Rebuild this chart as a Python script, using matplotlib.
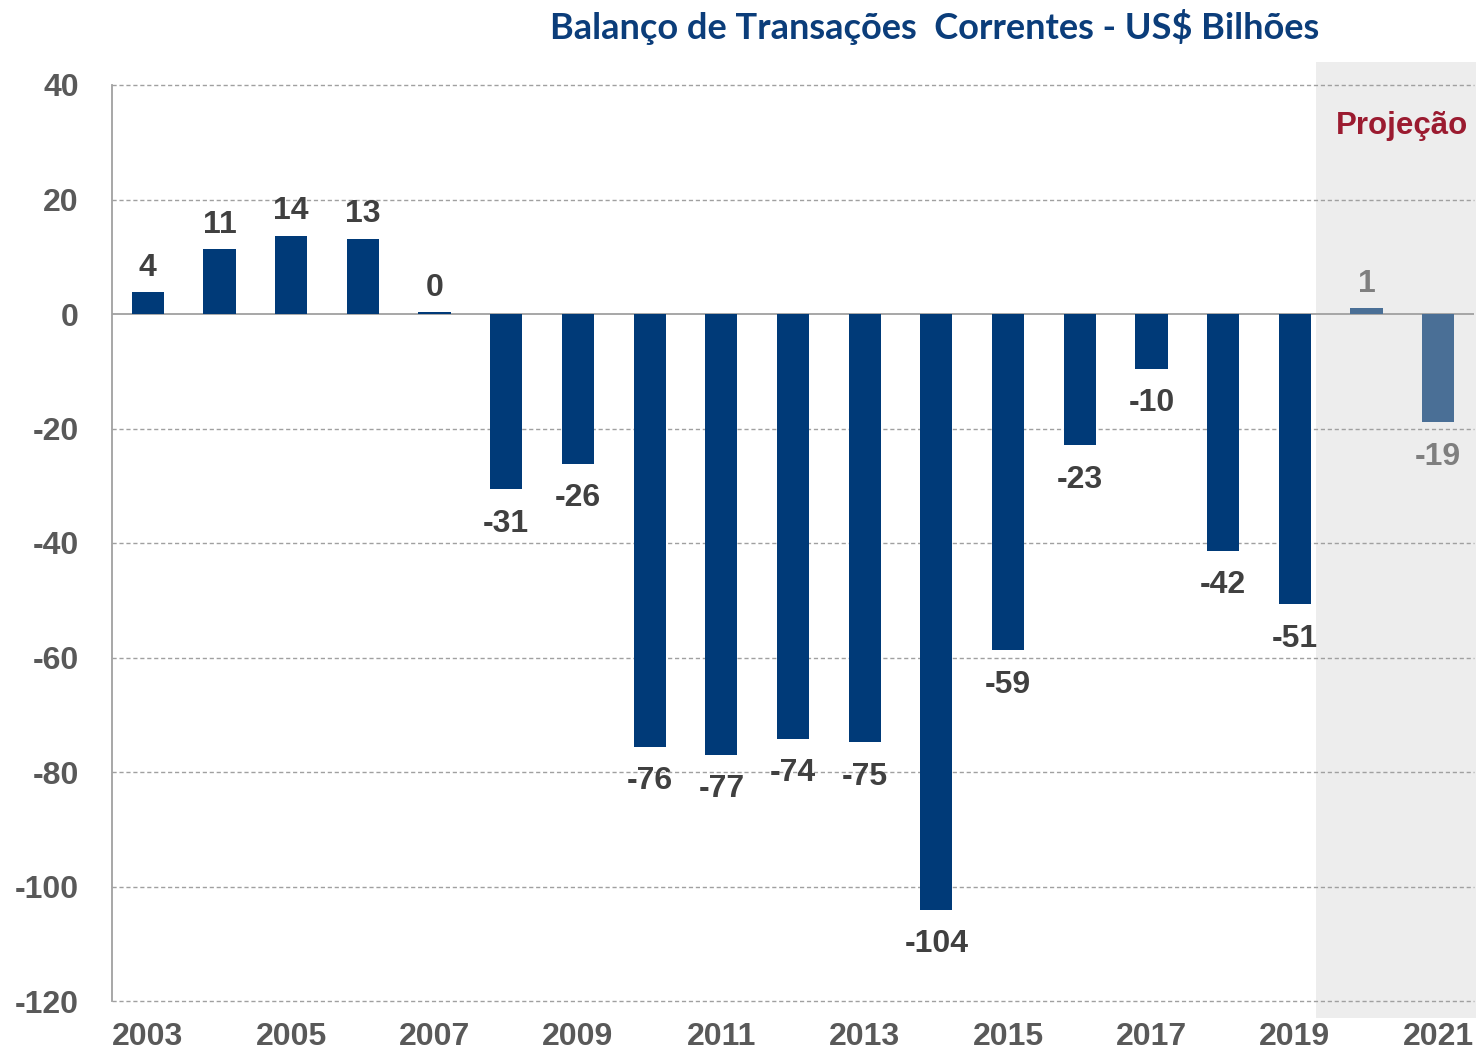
import matplotlib
matplotlib.use("Agg")
import matplotlib.pyplot as plt
from matplotlib.patches import Rectangle
import matplotlib.transforms as mtransforms

years = [2003, 2004, 2005, 2006, 2007, 2008, 2009, 2010, 2011, 2012, 2013,
         2014, 2015, 2016, 2017, 2018, 2019, 2020, 2021]
values = [3.8, 11.3, 13.6, 13.1, 0.3, -30.6, -26.2, -75.6, -77.0, -74.2, -74.8,
          -104.1, -58.7, -22.9, -9.6, -41.4, -50.7, 1.0, -18.9]
labels = ["4", "11", "14", "13", "0", "-31", "-26", "-76", "-77", "-74", "-75",
          "-104", "-59", "-23", "-10", "-42", "-51", "1", "-19"]
projected = [False] * 17 + [True, True]
yticks = [40, 20, 0, -20, -40, -60, -80, -100, -120]

title = "Balanço de Transações  Correntes - US$ Bilhões"
proj_label = "Projeção"

W, H = 1478, 1051
fig = plt.figure(figsize=(W / 100, H / 100), dpi=100)
ax = fig.add_axes([112 / W, 1 - 1001 / H, (1474 - 112) / W, (1001 - 85) / H])

dark = "#003A78"
light = "#4A6F96"
x = list(range(len(years)))
colors = [light if p else dark for p in projected]
ax.bar(x, values, width=0.45, color=colors, zorder=3)

ax.set_xlim(-0.5, len(years) - 0.5)
ax.set_ylim(-120, 40)

# projection shading
trans = mtransforms.blended_transform_factory(ax.transData, ax.transAxes)
ax.add_patch(Rectangle((16.3, -0.0186), len(years) - 0.5 - 16.3 + 0.03, 1.0436,
                       transform=trans, facecolor="#EDEDED", edgecolor="none",
                       clip_on=False, zorder=0))

for v in yticks:
    if v == 0:
        continue
    ax.axhline(v, color="#A0A0A0", linestyle=(0, (3, 2)), linewidth=1.0,
               zorder=1, clip_on=False)
ax.axhline(0, color="#A0A0A0", linewidth=1.3, zorder=2)

for s in ["top", "right", "bottom"]:
    ax.spines[s].set_visible(False)
ax.spines["left"].set_color("#A0A0A0")
ax.spines["left"].set_linewidth(1.3)
ax.set_facecolor("none")

tick_font = dict(fontsize=23, fontweight="bold", color="#595959",
                 family="Liberation Sans")
ax.set_yticks(yticks)
ax.set_yticklabels([str(v) for v in yticks], **tick_font)
ax.tick_params(axis="y", length=0, pad=24)
ax.set_xticks(x[::2])
ax.set_xticklabels([str(y) for y in years[::2]], **tick_font)
ax.tick_params(axis="x", length=0, pad=15)

for xi, v, lab, p in zip(x, values, labels, projected):
    c = "#7F7F7F" if p else "#404040"
    if v >= 0:
        ax.annotate(lab, (xi, v), xytext=(0, 7), textcoords="offset points",
                    ha="center", va="bottom", fontsize=23, fontweight="bold",
                    color=c, family="Liberation Sans")
    else:
        ax.annotate(lab, (xi, v), xytext=(0, -14), textcoords="offset points",
                    ha="center", va="top", fontsize=23, fontweight="bold",
                    color=c, family="Liberation Sans")

fig.text(935 / W, 1 - 27 / H, title, ha="center", va="center", fontsize=26,
         fontweight="bold", color="#0B3D7A", family="Lato")
fig.text(1468 / W, 1 - 126 / H, proj_label, ha="right", va="center", fontsize=22.5,
         fontweight="bold", color="#9B1B30", family="Liberation Sans")

fig.savefig("out.png", dpi=100)
